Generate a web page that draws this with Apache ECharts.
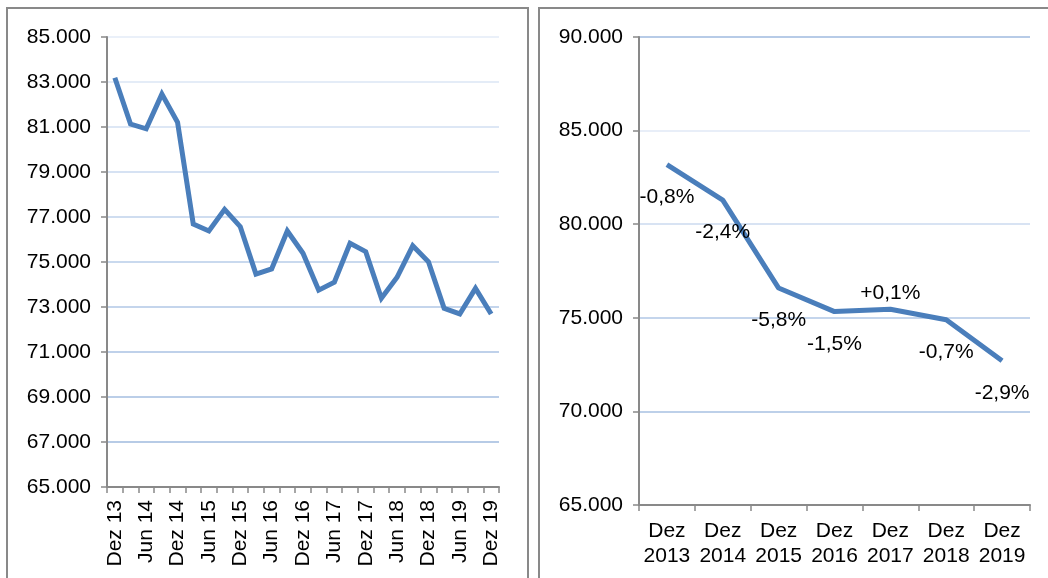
<!DOCTYPE html>
<html>
<head>
<meta charset="utf-8">
<script src="https://cdn.jsdelivr.net/npm/echarts@6/dist/echarts.min.js"></script>
<style>
  html, body { margin: 0; padding: 0; background: #fff; }
  #chart { width: 1048px; height: 578px; }
</style>
</head>
<body>
<div id="chart"></div>
<script>
// ---- data ----
const quarterLabels = ['Dez 13','Mär 14','Jun 14','Sep 14','Dez 14','Mär 15','Jun 15','Sep 15','Dez 15',
  'Mär 16','Jun 16','Sep 16','Dez 16','Mär 17','Jun 17','Sep 17','Dez 17','Mär 18','Jun 18','Sep 18',
  'Dez 18','Mär 19','Jun 19','Sep 19','Dez 19'];
const quarterValues = [83190, 81130, 80920, 82460, 81210, 76690, 76380, 77340, 76570,
  74460, 74690, 76380, 75390, 73750, 74100, 75830, 75460, 73390, 74320, 75720,
  75010, 72940, 72690, 73830, 72690];

const yearLabels = ['Dez\n2013','Dez\n2014','Dez\n2015','Dez\n2016','Dez\n2017','Dez\n2018','Dez\n2019'];
const yearValues = [83180, 81290, 76590, 75330, 75460, 74900, 72700];
const yearChanges = ['-0,8%','-2,4%','-5,8%','-1,5%','+0,1%','-0,7%','-2,9%'];

// ---- styles ----
const FONT = 'Liberation Sans, Arial, sans-serif';
const FS = 21;
const AXIS_COLOR = '#898989';
const LINE_COLOR = '#4A7EBB';
const fmt = v => (v / 1000).toFixed(3);

const leftGridColors = ['#b3c8e5','#b7cbe6','#bbcee8','#bfd1ea','#c4d5ec','#c9d9ee','#cfddf0','#d6e2f3','#dde7f5','#e4ecf7','#eaf0f9'];
const rightGridColors = ['#b7cbe7','#bdd0e9','#c4d5ec','#d8e3f3','#e8eef8'];

const yearData = yearValues.map((v, i) => ({
  value: v,
  label: {
    show: true,
    formatter: yearChanges[i],
    position: yearChanges[i].startsWith('+') ? 'top' : 'bottom',
    distance: yearChanges[i].startsWith('+') ? 5 : 22,
    fontSize: FS,
    fontFamily: FONT,
    color: '#000'
  }
}));

const chart = echarts.init(document.getElementById('chart'), null, { renderer: 'canvas' });
chart.setOption({
  backgroundColor: '#ffffff',
  animation: false,
  graphic: [
    { type: 'rect', shape: { x: 7, y: 8, width: 521, height: 620 },
      style: { fill: 'none', stroke: AXIS_COLOR, lineWidth: 2 }, z: 100 },
    { type: 'rect', shape: { x: 539, y: 8, width: 620, height: 620 },
      style: { fill: 'none', stroke: AXIS_COLOR, lineWidth: 2 }, z: 100 }
  ],
  grid: [
    { left: 107, top: 37, width: 392, height: 450 },
    { left: 639, top: 37, width: 391, height: 468 }
  ],
  xAxis: [
    {
      type: 'category', gridIndex: 0, data: quarterLabels, boundaryGap: true,
      axisLine: { lineStyle: { color: AXIS_COLOR, width: 2 } },
      axisTick: { show: true, interval: 0, length: 6, lineStyle: { color: AXIS_COLOR, width: 1.5 } },
      axisLabel: { interval: 1, rotate: 90, margin: 13, fontSize: FS, fontFamily: FONT, color: '#000' },
      splitLine: { show: false }
    },
    {
      type: 'category', gridIndex: 1, data: yearLabels, boundaryGap: true,
      axisLine: { lineStyle: { color: AXIS_COLOR, width: 2 } },
      axisTick: { show: true, interval: 0, length: 6, lineStyle: { color: AXIS_COLOR, width: 1.5 } },
      axisLabel: { interval: 0, margin: 14, fontSize: FS, lineHeight: 25, fontFamily: FONT, color: '#000' },
      splitLine: { show: false }
    }
  ],
  yAxis: [
    {
      type: 'value', gridIndex: 0, min: 65000, max: 85000, interval: 2000,
      axisLine: { show: true, lineStyle: { color: AXIS_COLOR, width: 2 } },
      axisTick: { show: true, length: 6, lineStyle: { color: AXIS_COLOR, width: 1.5 } },
      axisLabel: { margin: 16, fontSize: FS, fontFamily: FONT, color: '#000', formatter: fmt },
      splitLine: { show: true, lineStyle: { color: leftGridColors, width: 2 } }
    },
    {
      type: 'value', gridIndex: 1, min: 65000, max: 90000, interval: 5000,
      axisLine: { show: true, lineStyle: { color: AXIS_COLOR, width: 2 } },
      axisTick: { show: true, length: 6, lineStyle: { color: AXIS_COLOR, width: 1.5 } },
      axisLabel: { margin: 16, fontSize: FS, fontFamily: FONT, color: '#000', formatter: fmt },
      splitLine: { show: true, lineStyle: { color: rightGridColors, width: 2 } }
    }
  ],
  series: [
    {
      type: 'line', xAxisIndex: 0, yAxisIndex: 0, data: quarterValues,
      showSymbol: false, symbol: 'none',
      lineStyle: { color: LINE_COLOR, width: 5, join: 'miter' },
      z: 5
    },
    {
      type: 'line', xAxisIndex: 1, yAxisIndex: 1, data: yearData,
      symbol: 'circle', symbolSize: 0.1, showSymbol: true,
      itemStyle: { color: LINE_COLOR },
      lineStyle: { color: LINE_COLOR, width: 5 },
      z: 5
    }
  ]
});
</script>
</body>
</html>
